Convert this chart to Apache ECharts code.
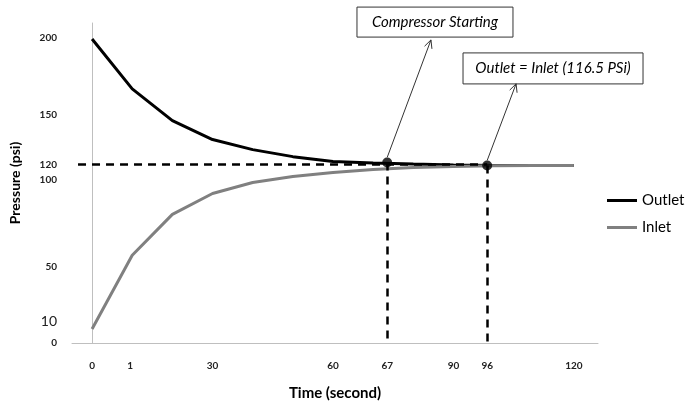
<!DOCTYPE html>
<html>
<head>
<meta charset="utf-8">
<script src="https://cdn.jsdelivr.net/npm/echarts@6/dist/echarts.min.js"></script>
<style>
  html, body { margin: 0; padding: 0; background: #fff; }
  #main { width: 695px; height: 406px; }
</style>
</head>
<body>
<div id="main"></div>
<script>
// time in seconds, one reading every 10 s
const times = [0, 10, 20, 30, 40, 50, 60, 70, 80, 90, 100, 110, 120];
const outlet = [199.5, 166.8, 145.9, 133.5, 126.9, 122.3, 119.1, 118.2, 117.4, 116.8, 116.5, 116.5, 116.5];
const inlet = [9.2, 57.6, 84.4, 98.1, 105.3, 109.2, 111.9, 113.8, 115.1, 115.8, 116.4, 116.5, 116.5];

// hand placed tick labels of the original (position on axis, text shown)
const xTickPos = [0, 9.5, 30, 60, 73.5, 90, 98.4, 120];
const xTickText = ["0", "1", "30", "60", "67", "90", "96", "120"];
const yTickPos = [0, 14.4, 49.7, 107, 117, 149.8, 200];
const yTickText = ["0", "10", "50", "100", "120", "150", "200"];

// marked events: compressor starting, outlet = inlet
const events = [[73.5, 118.5], [98.4, 116.5]];
const refLevel = 117.1;
const refStart = -3.5;

// annotation boxes (centre in data units) and arrows pointing at them
const notes = [
  { text: "Compressor Starting", at: [85.4, 210.6], w: 156, h: 30 },
  { text: "Outlet = Inlet (116.5 PSi)", at: [114.8, 180.2], w: 180, h: 31 }
];
const arrowTips = [[84.4, 198.9], [105.6, 170.1]];

function pickLabel(pos, text, v) {
  for (let i = 0; i < pos.length; i++) {
    if (Math.abs(pos[i] - v) < 0.01) return text[i];
  }
  return "";
}

const chart = echarts.init(document.getElementById("main"));

const dashStyle = { color: "#000", width: 2.5, type: [8, 6] };

const option = {
  textStyle: { fontFamily: "Lato" },
  animation: false,
  grid: { left: 72, right: 97, top: 23, bottom: 62 },
  legend: {
    data: ["Outlet", "Inlet"],
    orient: "vertical",
    left: 602,
    top: 188,
    icon: "rect",
    itemWidth: 30,
    itemHeight: 3,
    itemGap: 12,
    textStyle: { fontSize: 15, color: "#000", fontFamily: "Lato" }
  },
  xAxis: {
    type: "value",
    min: -5,
    max: 126,
    name: "Time (second)",
    nameLocation: "middle",
    nameGap: 43,
    nameTextStyle: { fontSize: 15, fontWeight: "bold", color: "#000" },
    axisLine: { show: true, lineStyle: { color: "#bfbfbf", width: 1 } },
    axisTick: { show: false },
    splitLine: { show: false },
    axisLabel: {
      customValues: xTickPos,
      margin: 18,
      fontSize: 10,
      fontWeight: "bold",
      color: "#222",
      formatter: (v) => pickLabel(xTickPos, xTickText, v)
    }
  },
  yAxis: {
    type: "value",
    min: 0,
    max: 210,
    name: "Pressure (psi)",
    nameLocation: "middle",
    nameGap: 50,
    nameTextStyle: { fontSize: 14, fontWeight: "bold", color: "#000" },
    axisLine: { show: true, lineStyle: { color: "#bfbfbf", width: 1 } },
    axisTick: { show: false },
    splitLine: { show: false },
    axisLabel: {
      customValues: yTickPos,
      margin: 15,
      fontSize: 10,
      fontWeight: "bold",
      color: "#222",
      formatter: (v) => {
        const t = pickLabel(yTickPos, yTickText, v);
        return t === "10" ? "{big|10}" : t;
      },
      rich: { big: { fontSize: 14, fontWeight: "normal", color: "#222" } }
    }
  },
  series: [
    {
      name: "Outlet",
      type: "line",
      data: times.map((t, i) => [t, outlet[i]]),
      showSymbol: false,
      lineStyle: { color: "#000", width: 3 },
      itemStyle: { color: "#000" },
      z: 2
    },
    {
      name: "Inlet",
      type: "line",
      data: times.map((t, i) => [t, inlet[i]]),
      showSymbol: false,
      lineStyle: { color: "#808080", width: 3 },
      itemStyle: { color: "#808080" },
      z: 3
    },
    {
      name: "events",
      type: "scatter",
      data: events,
      symbolSize: 10,
      itemStyle: { color: "#000" },
      z: 5,
      markLine: {
        silent: true,
        symbol: "none",
        label: { show: false },
        lineStyle: dashStyle,
        data: [
          [{ coord: [refStart, refLevel] }, { coord: [events[1][0], refLevel] }],
          [{ coord: events[0] }, { coord: [events[0][0], 0] }],
          [{ coord: events[1] }, { coord: [events[1][0], 0] }]
        ]
      }
    }
  ]
};

chart.setOption(option);

// annotation boxes and arrows, placed through the grid's own scales
function drawNotes() {
  const g = [];
  notes.forEach((n) => {
    const p = chart.convertToPixel({ gridIndex: 0 }, n.at);
    g.push({
      type: "group",
      x: p[0],
      y: p[1],
      children: [
        {
          type: "rect",
          shape: { x: -n.w / 2, y: -n.h / 2, width: n.w, height: n.h },
          style: { fill: "#fff", stroke: "#333", lineWidth: 1 }
        },
        {
          type: "text",
          style: {
            text: n.text,
            x: 0,
            y: 0,
            align: "center",
            verticalAlign: "middle",
            fontSize: 15,
            fontStyle: "italic",
            fontFamily: "Lato",
            fill: "#000"
          }
        }
      ]
    });
  });
  arrowTips.forEach((tip, i) => {
    const a = chart.convertToPixel({ gridIndex: 0 }, events[i]);
    const b = chart.convertToPixel({ gridIndex: 0 }, tip);
    const ang = Math.atan2(a[1] - b[1], a[0] - b[0]);
    const L = 9, spread = 0.45;
    g.push({
      type: "polyline",
      shape: { points: [[a[0], a[1] - 5], b] },
      style: { stroke: "#333", lineWidth: 1, fill: null }
    });
    g.push({
      type: "polyline",
      shape: {
        points: [
          [b[0] + L * Math.cos(ang - spread), b[1] + L * Math.sin(ang - spread)],
          b,
          [b[0] + L * Math.cos(ang + spread), b[1] + L * Math.sin(ang + spread)]
        ]
      },
      style: { stroke: "#333", lineWidth: 1, fill: null }
    });
  });
  chart.setOption({ graphic: g });
}

drawNotes();
</script>
</body>
</html>
